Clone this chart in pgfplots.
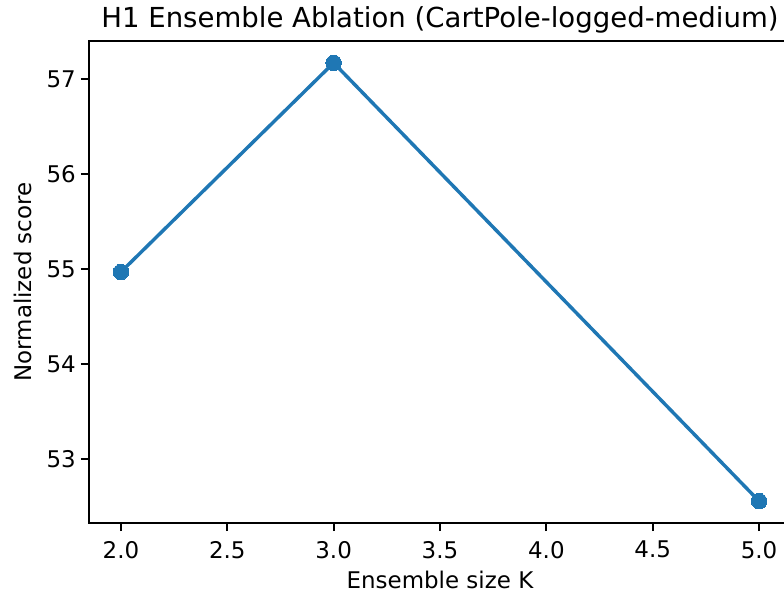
\documentclass[border=0pt]{standalone}
\usepackage{fontspec}
\setmainfont{DejaVu Sans}
\usepackage{pgfplots}
\pgfplotsset{compat=1.18}
\definecolor{tabblue}{HTML}{1F77B4}

\begin{document}
\begin{tikzpicture}
\begin{axis}[
    at={(40.05pt,31.95pt)},
    anchor=origin,
    scale only axis,
    width=315.9pt,
    height=216.9pt,
    xmin=1.85, xmax=5.15,
    ymin=52.33, ymax=57.40,
    xtick={2,2.5,3,3.5,4,4.5,5},
    ytick={53,54,55,56,57},
    xtick pos=bottom,
    ytick pos=left,
    tick align=outside,
    major tick length=3.6pt,
    every tick/.style={black, line width=0.83pt},
    axis line style={line width=0.83pt},
    /pgf/number format/assume math mode=true,
    xticklabel style={font=\fontsize{10.33}{12}\selectfont, yshift=-1pt,
        /pgf/number format/.cd, fixed, fixed zerofill, precision=1},
    yticklabel style={font=\fontsize{10.33}{12}\selectfont, xshift=1.2pt},
    title={H1 Ensemble Ablation (CartPole-logged-medium)},
    every axis title shift=0pt,
    title style={font=\fontsize{12.4}{14}\selectfont, at={(axis description cs:0.5,1.0278)}, anchor=base, yshift=0pt},
    xlabel={Ensemble size K},
    xlabel style={font=\fontsize{10.33}{12}\selectfont, at={(axis description cs:0.5,-0.1349)}, anchor=base},
    ylabel={Normalized score},
    ylabel style={font=\fontsize{10.33}{12}\selectfont, at={(axis description cs:-0.0817,0.5)}, anchor=base, rotate=0},
]
\addplot[tabblue, line width=1.55pt, mark=*, mark size=3.5pt, mark options={fill=tabblue, draw=tabblue, line width=0pt}]
coordinates {
    (2, 54.97)
    (3, 57.17)
    (5, 52.56)
};
\end{axis}
\pgfresetboundingbox
\useasboundingbox (0,0) rectangle (352.8pt,267.3pt);
\end{tikzpicture}
\end{document}
